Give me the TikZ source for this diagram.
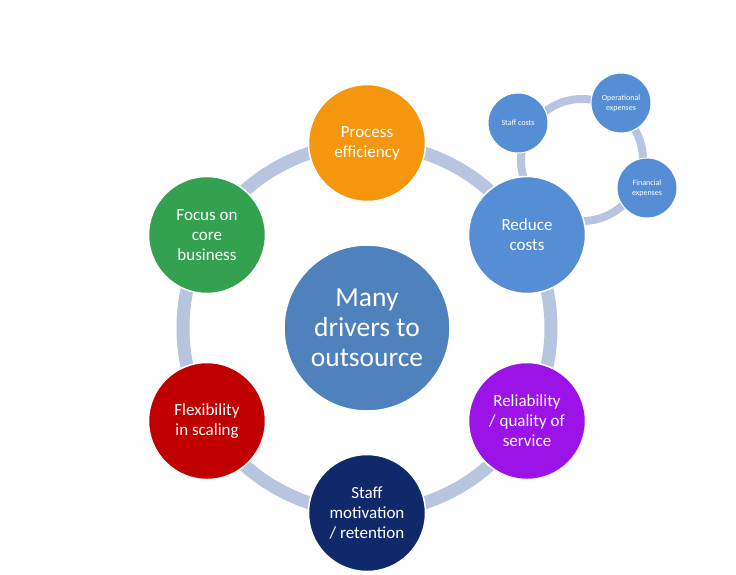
\documentclass[tikz,border=0pt]{standalone}
\usepackage{fontspec}
\setmainfont{Carlito}
\definecolor{ringc}{HTML}{B7C5E0}
\definecolor{centc}{HTML}{4F81BD}
\definecolor{bluec}{HTML}{558ED5}
\definecolor{orangec}{HTML}{F5960F}
\definecolor{greenc}{HTML}{33A150}
\definecolor{redc}{HTML}{C00000}
\definecolor{navyc}{HTML}{10296B}
\definecolor{purplec}{HTML}{9B13E6}
\tikzset{
  bigring/.style={draw=ringc, line width=13pt},
  smallring/.style={draw=ringc, line width=8pt},
  driver/.style={circle, draw=white, line width=1.5pt, minimum size=117pt, inner sep=0pt,
    text=white, align=center, font=\fontsize{17}{20}\selectfont},
  center/.style={circle, draw=white, line width=1.5pt, fill=centc, minimum size=166pt, inner sep=0pt,
    text=white, align=center, font=\fontsize{27.5}{30}\selectfont},
  cost/.style={circle, draw=white, line width=1pt, fill=bluec, minimum size=60pt, inner sep=0pt,
    text=white, align=center, font=\fontsize{8}{10}\selectfont},
}
\begin{document}
\begin{tikzpicture}[x=1pt,y=-1pt]
\useasboundingbox[fill=white] (0,0) rectangle (736,574);
\coordinate (o) at (367,328);
\coordinate (so) at (582,160);
\draw[bigring] (o) circle (184);
\draw[smallring] (so) circle (61);
\node[center] (c) at (o) {Many\\drivers to\\outsource};
\node[driver, fill=orangec] (pe) at (367,143) {Process\\efficiency};
\node[driver, fill=bluec] (rc) at (527,235) {Reduce\\costs};
\node[driver, fill=purplec] (rq) at (527,421) {Reliability\\/ quality of\\service};
\node[driver, fill=navyc] (sm) at (367,513) {Staff\\motivation\\/ retention};
\node[driver, fill=redc] (fs) at (207,421) {Flexibility\\in scaling};
\node[driver, fill=greenc] (fc) at (207,235) {Focus on\\core\\business};
\node[cost] (sc) at (518,123) {Staff costs};
\node[cost] (oe) at (621,103) {Operational\\expenses};
\node[cost] (fe) at (647,188) {Financial\\expenses};
\end{tikzpicture}
\end{document}
